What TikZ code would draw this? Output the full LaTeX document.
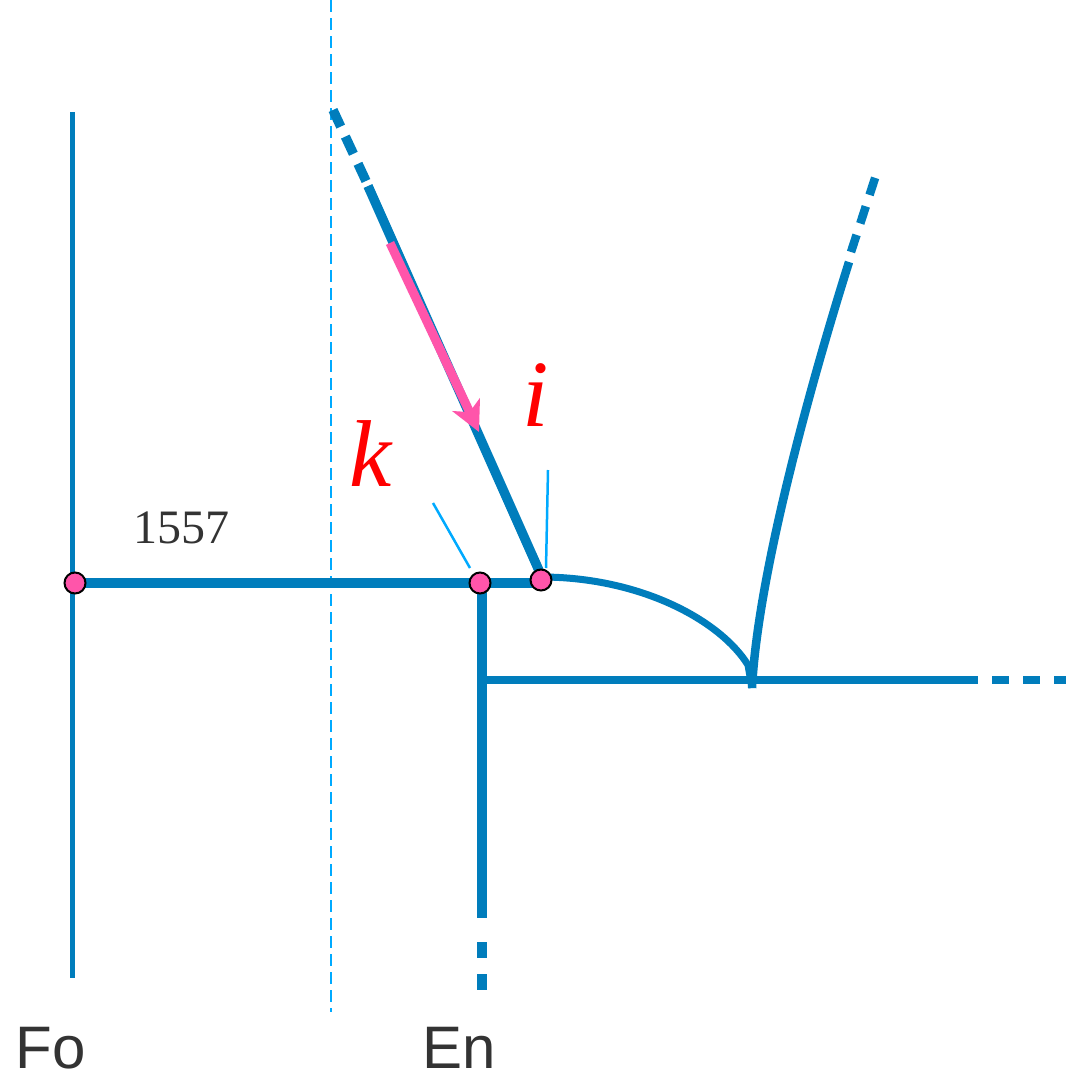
\documentclass[tikz,border=0pt]{standalone}
\usepackage{fontspec}
\setmainfont{Liberation Serif}
\newfontfamily\labsans{Liberation Sans}
\usetikzlibrary{arrows.meta}
\definecolor{geoblue}{RGB}{0,125,188}
\definecolor{lightblue}{RGB}{0,170,255}
\definecolor{hotpink}{RGB}{255,85,170}
\definecolor{darkgray}{RGB}{51,51,51}
\tikzset{
  thickline/.style={geoblue, line width=9.5pt},
  thinline/.style={geoblue, line width=5pt},
  guide/.style={lightblue, line width=2.5pt},
  ptdot/.style={circle, fill=hotpink, draw=black, line width=2pt, minimum size=21pt, inner sep=0pt},
  redlab/.style={text=red, font=\fontsize{95}{95}\selectfont\itshape, inner sep=0pt},
  graylab/.style={text=darkgray, inner sep=0pt},
}
\begin{document}
\begin{tikzpicture}[x=1pt,y=-1pt]
\useasboundingbox (0,0) rectangle (1066,1082);
% coordinates
\coordinate (Ftop) at (72,112);
\coordinate (Fbot) at (72,978);
\coordinate (Gtop) at (331,0);
\coordinate (Gbot) at (331,1012);
\coordinate (Vtop) at (482,583);
\coordinate (Vsol) at (482,918);
\coordinate (Vd) at (482,942);
\coordinate (Vend) at (482,990);
\coordinate (Hl) at (482,680);
\coordinate (Hsol) at (978,680);
\coordinate (Hd) at (992,680);
\coordinate (Hend) at (1066,680);
\coordinate (Send) at (368,186);
\coordinate (Sd) at (366,181);
\coordinate (Stop) at (333,110);
\coordinate (Rbot) at (752,688);
\coordinate (Rsol) at (849,262);
\coordinate (Rd) at (851,252);
\coordinate (Rtop) at (877,172);
\coordinate (Atail) at (390,243);
\coordinate (Ahead) at (479,432);
\coordinate (T1a) at (433,503);
\coordinate (T1b) at (470,568);
\coordinate (T2a) at (548,470);
\coordinate (T2b) at (546,568);
% guide dashed line
\draw[guide, dash pattern=on 12pt off 6pt] (Gtop) -- (Gbot);
% left vertical
\draw[thinline] (Ftop) -- (Fbot);
% vertical at En
\draw[thickline] (Vtop) -- (Vsol);
\draw[thickline, dash pattern=on 16pt off 16pt] (Vd) -- (Vend);
% horizontal right
\draw[thickline, line width=8pt] (Hl) -- (Hsol);
\draw[thickline, line width=8pt, dash pattern=on 17pt off 14pt] (Hd) -- (Hend);
% curve
\draw[geoblue, line width=7pt] (541,577) .. controls (640,577) and (720,620) .. (748,665) -- (Rbot);
% right line
\draw[geoblue, line width=8.5pt] (Rbot) .. controls (758,570) and (815,370) .. (Rsol);
\draw[geoblue, line width=8.5pt, dash pattern=on 18pt off 12pt] (Rd) -- (Rtop);
% slanted line
\draw[thickline] (541,575) -- (Send);
\draw[thickline, dash pattern=on 19pt off 11pt] (Sd) -- (Stop);
% thin guides
\draw[guide] (T1a) -- (T1b);
\draw[guide] (T2a) -- (T2b);
% main horizontal
\draw[thickline] (75,583) -- (541,583);
% pink arrow
\draw[hotpink, line width=9pt, -{Stealth[length=30pt,width=30pt,inset=8pt]}] (Atail) -- (Ahead);
% points
\node[ptdot] (P1) at (75,583) {};
\node[ptdot] (P2) at (480,583) {};
\node[ptdot] (P3) at (541,580) {};
% labels
\node[graylab, font=\fontsize{48}{48}\selectfont, anchor=base] (n) at (181,543) {1557};
\node[redlab, anchor=base] (k) at (371,486) {k};
\node[redlab, anchor=base] (i) at (536,426) {i};
\node[graylab, font=\labsans\fontsize{60}{60}\selectfont, anchor=base] (Fo) at (51,1068) {Fo};
\node[graylab, font=\labsans\fontsize{60}{60}\selectfont, anchor=base] (En) at (459,1068) {En};
\end{tikzpicture}
\end{document}
